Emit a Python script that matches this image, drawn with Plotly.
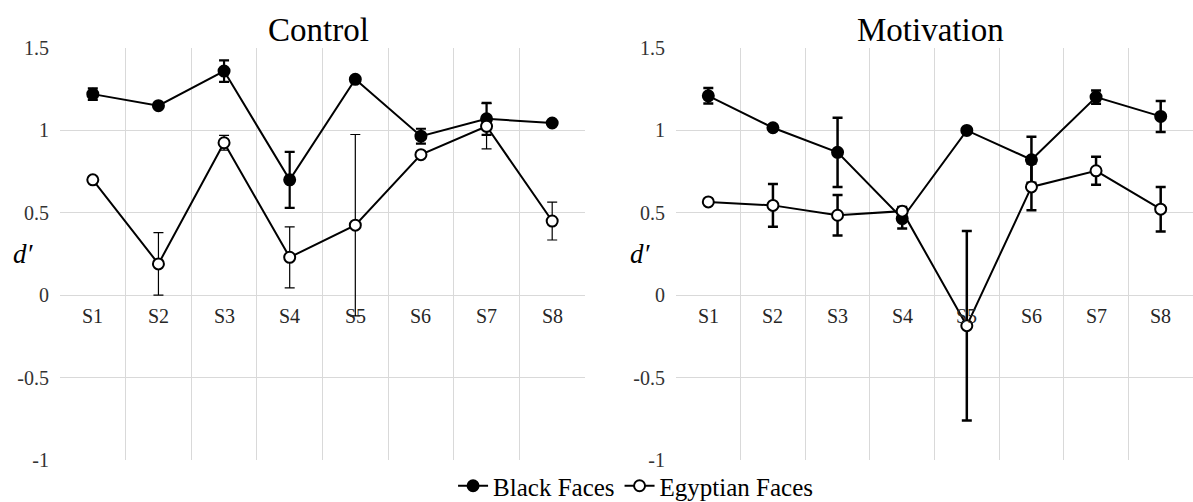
import plotly.graph_objects as go

# Sessions (shared category axis)
sessions = ["S1", "S2", "S3", "S4", "S5", "S6", "S7", "S8"]

# Control condition: mean d' and error per session
control_black = [1.22, 1.15, 1.36, 0.70, 1.31, 0.965, 1.07, 1.045]
control_black_err = [0.035, 0.01, 0.065, 0.17, 0.015, 0.045, 0.097, 0.01]
control_egypt = [0.70, 0.19, 0.925, 0.23, 0.425, 0.853, 1.025, 0.45]
control_egypt_err = [0.01, 0.19, 0.045, 0.185, 0.55, 0.01, 0.137, 0.115]

# Motivation condition: mean d' and error per session
motiv_black = [1.21, 1.016, 0.867, 0.465, 1.0, 0.822, 1.202, 1.085]
motiv_black_err = [0.047, 0.01, 0.21, 0.06, 0.01, 0.14, 0.04, 0.094]
motiv_egypt = [0.566, 0.545, 0.485, 0.51, -0.185, 0.657, 0.755, 0.522]
motiv_egypt_err = [0.01, 0.13, 0.123, 0.025, 0.575, 0.142, 0.085, 0.135]

# y-axis ticks
y_ticks = [-1, -0.5, 0, 0.5, 1, 1.5]
y_tick_text = ["-1", "-0.5", "0", "0.5", "1", "1.5"]

panel_titles = ["Control", "Motivation"]
series_names = ["Black Faces", "Egyptian Faces"]

SERIF = "Liberation Serif"
W, H = 1193, 502
ML, MR, MT, MB = 60, 0, 48, 42
plot_w = W - ML - MR
left_dom = [0.0, 525 / plot_w]
right_dom = [(676 - ML) / plot_w, 1.0]

fig = go.Figure()


def add_series(y, err, xa, ya, filled, name, show, err_thick):
    fig.add_trace(go.Scatter(
        x=sessions, y=y, xaxis=xa, yaxis=ya,
        mode="lines+markers", name=name, showlegend=show,
        line=dict(color="black", width=2),
        marker=dict(symbol="circle", size=11,
                    color="black" if filled else "white",
                    line=dict(color="black", width=2)),
        error_y=dict(type="data", array=err, visible=True,
                     color="black", thickness=err_thick, width=5),
    ))


add_series(control_black, control_black_err, "x", "y", True, series_names[0], True, 2.2)
add_series(control_egypt, control_egypt_err, "x", "y", False, series_names[1], True, 1.2)
add_series(motiv_black, motiv_black_err, "x2", "y2", True, series_names[0], False, 2.5)
add_series(motiv_egypt, motiv_egypt_err, "x2", "y2", False, series_names[1], False, 2.5)

grid = "#d9d9d9"
xcommon = dict(type="category", range=[-0.5, len(sessions) - 0.5],
               tickson="boundaries", showgrid=True, gridcolor=grid, gridwidth=1,
               showticklabels=False, ticks="", showline=False, zeroline=False,
               fixedrange=True)
ycommon = dict(range=[-1, 1.5], tickvals=y_ticks, ticktext=y_tick_text,
               showgrid=True, gridcolor=grid, gridwidth=1, zeroline=False,
               showline=False, ticks="", ticklabelstandoff=10,
               tickfont=dict(family=SERIF, size=20, color="#333333"))

fig.update_layout(
    width=W, height=H,
    margin=dict(l=ML, r=MR, t=MT, b=MB, autoexpand=False),
    paper_bgcolor="white", plot_bgcolor="white",
    xaxis=dict(domain=left_dom, anchor="y", **xcommon),
    xaxis2=dict(domain=right_dom, anchor="y2", **xcommon),
    yaxis=dict(domain=[0, 1], anchor="x", **ycommon),
    yaxis2=dict(domain=[0, 1], anchor="x2", **ycommon),
    showlegend=True,
    legend=dict(orientation="h", x=0.508, xanchor="center",
                yref="container", y=(H - 486) / H, yanchor="middle",
                font=dict(family=SERIF, size=25, color="black"),
                bgcolor="rgba(0,0,0,0)", itemwidth=30, tracegroupgap=0),
)

# Panel titles
for title, dom in zip(panel_titles, [left_dom, right_dom]):
    fig.add_annotation(text=title, xref="paper", yref="paper",
                       x=(dom[0] + dom[1]) / 2, y=1.0, yanchor="bottom",
                       yshift=-2, xshift=-4, xanchor="center", showarrow=False,
                       font=dict(family=SERIF, size=33, color="black"))
# d' labels beside each y axis
for px in [23, 640]:
    fig.add_annotation(text="<i>d′</i>", xref="paper", yref="paper",
                       x=(px - ML) / plot_w, y=0.5, xanchor="center",
                       yanchor="middle", showarrow=False,
                       font=dict(family=SERIF, size=27, color="black"))
# Session labels sitting under the zero line
for xr, yr in [("x", "y"), ("x2", "y2")]:
    for s in sessions:
        fig.add_annotation(text=s, xref=xr, yref=yr, x=s, y=0,
                           xanchor="center", yanchor="top", yshift=-8,
                           showarrow=False,
                           font=dict(family=SERIF, size=20, color="#262626"))

fig.write_html("out.html")
